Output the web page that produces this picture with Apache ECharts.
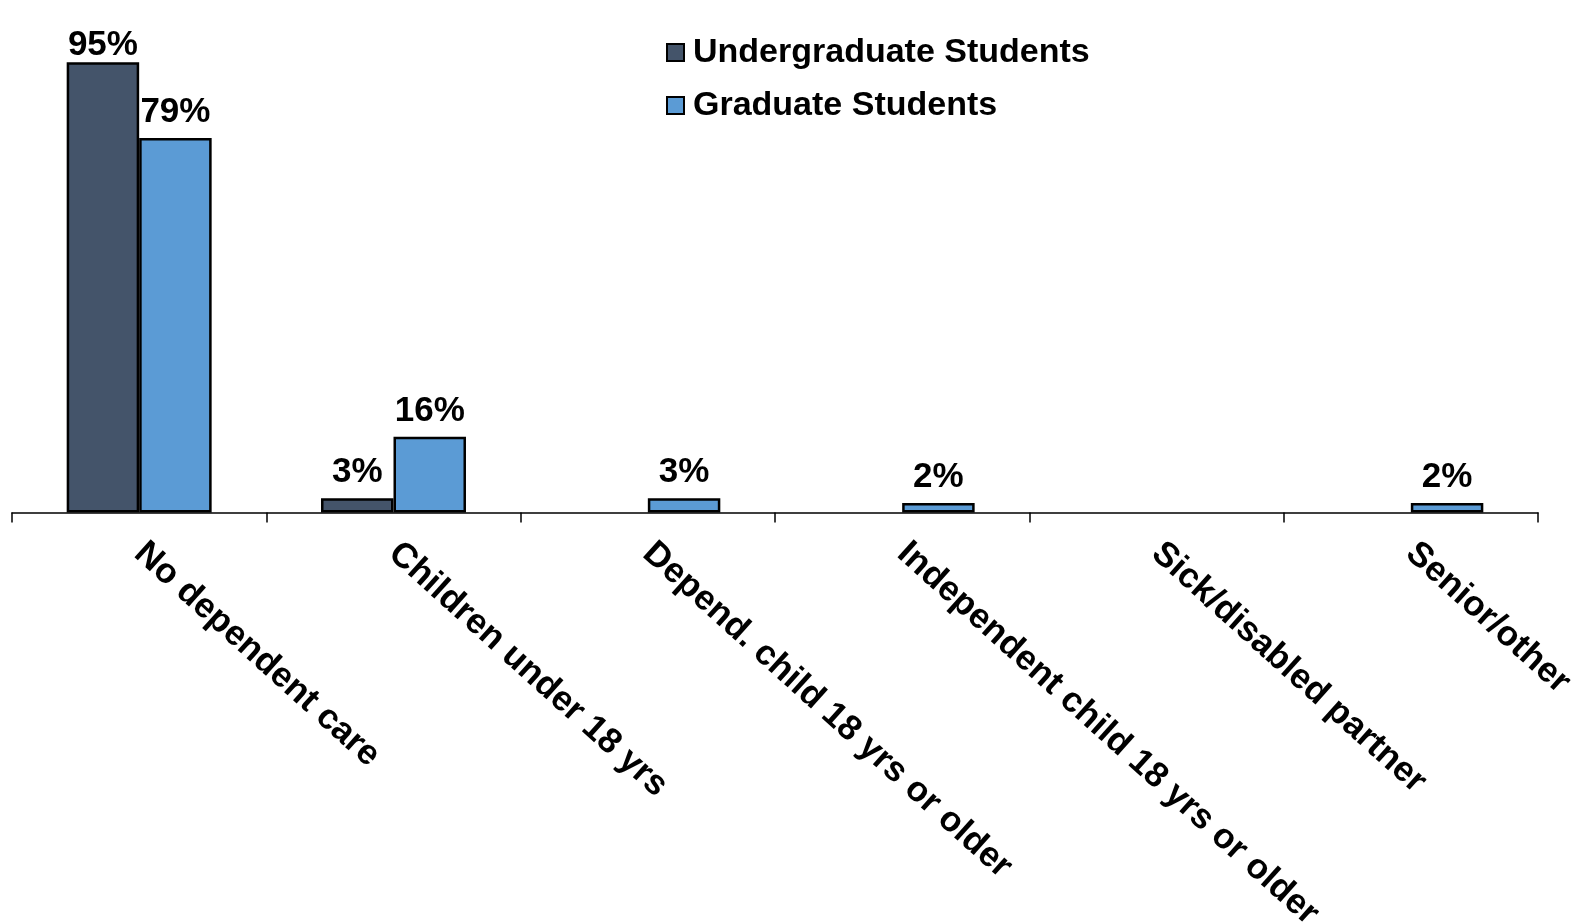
<!DOCTYPE html>
<html>
<head>
<meta charset="utf-8">
<title>Dependent care responsibilities</title>
<script src="https://cdn.jsdelivr.net/npm/echarts@6/dist/echarts.min.js"></script>
<style>
  html, body { margin: 0; padding: 0; background: #ffffff; }
  #chart { width: 1584px; height: 923px; }
</style>
</head>
<body>
<div id="chart"></div>
<script>
// Care categories along the x axis
const categories = [
  'No dependent care',
  'Children under 18 yrs',
  'Depend. child 18 yrs or older',
  'Independent child 18 yrs or older',
  'Sick/disabled partner',
  'Senior/other'
];

// Share of respondents (%) per group; null = no bar drawn
const undergraduate = [95, 3, null, null, null, null];
const graduate = [79, 16, 3, 2, null, 2];

const seriesNames = ['Undergraduate Students', 'Graduate Students'];

const FONT = '"Liberation Sans", Arial, Helvetica, sans-serif';

const chart = echarts.init(document.getElementById('chart'), null, { renderer: 'canvas' });

function valueLabel(distance) {
  return {
    show: true,
    position: 'top',
    distance: distance,
    formatter: '{c}%',
    color: '#000000',
    fontFamily: FONT,
    fontWeight: 'bold',
    fontSize: 35
  };
}

// The tallest bar's label sits closer to its bar, near the top edge of the plot
const undergraduateData = undergraduate.map(function (v, i) {
  return i === 0 ? { value: v, label: { distance: -1 } } : v;
});

chart.setOption({
  backgroundColor: '#ffffff',
  animation: false,
  legend: {
    orient: 'vertical',
    left: 661,
    top: 30.5,
    itemWidth: 17,
    itemHeight: 17,
    itemGap: 19,
    icon: 'rect',
    itemStyle: { borderColor: '#000000', borderWidth: 2 },
    textStyle: {
      color: '#000000',
      fontFamily: FONT,
      fontWeight: 'bold',
      fontSize: 34,
      padding: [0, 0, 0, 4]
    },
    data: seriesNames
  },
  grid: {
    left: 12,
    right: 46,
    top: 38.5,
    bottom: 410.5,
    containLabel: false,
    outerBoundsMode: 'none'
  },
  xAxis: {
    type: 'category',
    data: categories,
    axisLine: { show: true, lineStyle: { color: '#000000', width: 1.5 } },
    axisTick: { show: true, length: 10, lineStyle: { color: '#000000', width: 1.5 } },
    axisLabel: {
      interval: 0,
      rotate: -42,
      margin: 36,
      color: '#000000',
      fontFamily: FONT,
      fontWeight: 'bold',
      fontSize: 35.2
    }
  },
  yAxis: {
    type: 'value',
    min: 0,
    max: 100,
    show: false,
    splitLine: { show: false }
  },
  series: [
    {
      name: seriesNames[0],
      type: 'bar',
      data: undergraduateData,
      barGap: '0%',
      barCategoryGap: '43%',
      itemStyle: { color: '#44546A', borderColor: '#000000', borderWidth: 2.5 },
      label: valueLabel(8)
    },
    {
      name: seriesNames[1],
      type: 'bar',
      data: graduate,
      barGap: '0%',
      barCategoryGap: '43%',
      itemStyle: { color: '#5B9BD5', borderColor: '#000000', borderWidth: 2.5 },
      label: valueLabel(8)
    }
  ]
});
</script>
</body>
</html>
